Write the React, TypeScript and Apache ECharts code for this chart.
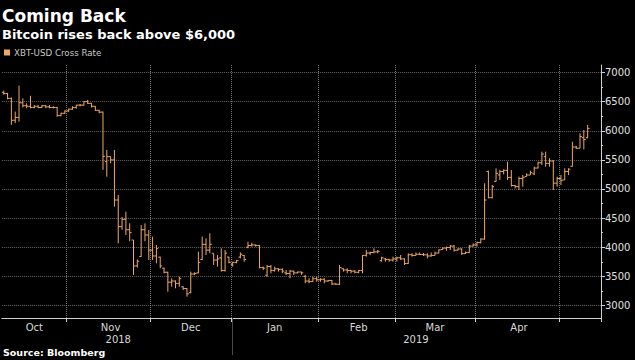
import React, { useEffect, useRef } from "react";
import * as echarts from "echarts";

// ---- categories: weekday trading days per month ----
const monthNames = ["Oct", "Nov", "Dec", "Jan", "Feb", "Mar", "Apr", "May"];
const monthYears = [2018, 2018, 2018, 2019, 2019, 2019, 2019, 2019];
const monthNumbers = [10, 11, 12, 1, 2, 3, 4, 5];
const oct2018Days = [9, 10, 11, 12, 15, 16, 17, 18, 19, 22, 23, 24, 25, 26, 29, 30, 31];
const nov2018Days = [1, 2, 5, 6, 7, 8, 9, 12, 13, 14, 15, 16, 19, 20, 21, 22, 23, 26, 27, 28, 29, 30];
const dec2018Days = [3, 4, 5, 6, 7, 10, 11, 12, 13, 14, 17, 18, 19, 20, 21, 24, 25, 26, 27, 28, 31];
const jan2019Days = [1, 2, 3, 4, 7, 8, 9, 10, 11, 14, 15, 16, 17, 18, 21, 22, 23, 24, 25, 28, 29, 30, 31];
const feb2019Days = [1, 4, 5, 6, 7, 8, 11, 12, 13, 14, 15, 18, 19, 20, 21, 22, 25, 26, 27, 28];
const mar2019Days = [1, 4, 5, 6, 7, 8, 11, 12, 13, 14, 15, 18, 19, 20, 21, 22, 25, 26, 27, 28, 29];
const apr2019Days = [1, 2, 3, 4, 5, 8, 9, 10, 11, 12, 15, 16, 17, 18, 19, 22, 23, 24, 25, 26, 29, 30];
const may2019Days = [1, 2, 3, 6, 7, 8, 9, 10, 13, 14, 15];
const monthDays = [oct2018Days, nov2018Days, dec2018Days, jan2019Days, feb2019Days, mar2019Days, apr2019Days, may2019Days];

// ---- XBT-USD daily bars: [open, high, low, close] ----
const octBars = [
  [6660, 6690, 6620, 6640], [6640, 6650, 6540, 6556], [6556, 6570, 6100, 6180], [6180, 6330, 6130, 6230],
  [6230, 6775, 6156, 6480], [6480, 6556, 6400, 6430], [6430, 6470, 6385, 6420], [6420, 6600, 6385, 6400],
  [6400, 6442, 6385, 6420], [6420, 6440, 6385, 6400], [6400, 6442, 6390, 6430], [6430, 6442, 6390, 6410],
  [6410, 6440, 6385, 6400], [6400, 6420, 6385, 6400], [6400, 6410, 6242, 6260], [6260, 6310, 6250, 6300],
  [6300, 6350, 6290, 6340],
];
const novBars = [
  [6340, 6380, 6320, 6370], [6370, 6420, 6360, 6400], [6400, 6445, 6380, 6440], [6440, 6460, 6420, 6440],
  [6440, 6510, 6430, 6500], [6500, 6530, 6460, 6470], [6470, 6480, 6400, 6420], [6420, 6425, 6340, 6350],
  [6350, 6360, 6300, 6320], [6320, 6330, 5330, 5560], [5470, 5670, 5212, 5555], [5555, 5560, 5440, 5500],
  [5500, 5670, 4697, 4811], [4811, 4897, 4067, 4353], [4353, 4520, 4300, 4480], [4480, 4611, 4210, 4300],
  [4300, 4411, 4102, 4250], [4124, 4124, 3524, 3678], [3680, 3790, 3650, 3760], [3840, 4380, 3838, 4300],
  [4300, 4411, 4102, 4210], [4210, 4296, 3781, 3950],
];
const decBars = [
  [3950, 4182, 3781, 3850], [3850, 4039, 3724, 3980], [3830, 3838, 3638, 3680], [3640, 3650, 3552, 3570],
  [3570, 3581, 3237, 3400], [3400, 3467, 3323, 3420], [3420, 3430, 3295, 3380], [3380, 3495, 3323, 3460],
  [3320, 3330, 3266, 3290], [3290, 3300, 3152, 3200], [3220, 3581, 3209, 3540], [3540, 3570, 3520, 3550],
  [3560, 3924, 3552, 3740], [3790, 4182, 3781, 4050], [4050, 4153, 3867, 3950], [3950, 4239, 3896, 4050],
  [3896, 3896, 3695, 3780], [3780, 3867, 3667, 3800], [3820, 3981, 3581, 3600], [3600, 3953, 3581, 3900],
  [3830, 3838, 3724, 3740],
];
const janBars = [
  [3700, 3752, 3667, 3740], [3740, 3781, 3724, 3770], [3830, 3910, 3810, 3880], [3860, 3867, 3752, 3790],
  [4000, 4096, 3981, 4030], [4030, 4079, 4010, 4040], [4040, 4045, 4010, 4030], [4030, 4039, 3638, 3650],
  [3650, 3667, 3610, 3640], [3520, 3695, 3495, 3670], [3670, 3695, 3552, 3600], [3600, 3667, 3581, 3630],
  [3630, 3638, 3581, 3620], [3620, 3638, 3552, 3590], [3560, 3610, 3524, 3550], [3550, 3610, 3467, 3590],
  [3590, 3598, 3524, 3560], [3560, 3581, 3552, 3575], [3575, 3581, 3524, 3560], [3500, 3524, 3381, 3420],
  [3420, 3467, 3381, 3410], [3410, 3495, 3405, 3460], [3460, 3495, 3410, 3440],
];
const febBars = [
  [3440, 3467, 3409, 3450], [3450, 3467, 3381, 3420], [3420, 3438, 3409, 3430], [3430, 3438, 3352, 3370],
  [3370, 3381, 3352, 3365], [3365, 3695, 3352, 3650], [3630, 3638, 3581, 3610], [3610, 3638, 3552, 3600],
  [3600, 3610, 3552, 3590], [3590, 3610, 3552, 3570], [3570, 3610, 3552, 3600], [3600, 3867, 3552, 3860],
  [3860, 3953, 3838, 3900], [3900, 3924, 3867, 3910], [3910, 3981, 3896, 3920], [3920, 3953, 3896, 3930],
  [3770, 3838, 3752, 3820], [3800, 3815, 3752, 3790], [3790, 3800, 3752, 3780], [3780, 3838, 3752, 3800],
];
const marBars = [
  [3800, 3838, 3752, 3820], [3820, 3867, 3781, 3800], [3800, 3810, 3695, 3720], [3720, 3896, 3715, 3870],
  [3870, 3896, 3838, 3860], [3860, 3910, 3855, 3880], [3880, 3910, 3867, 3875], [3875, 3900, 3850, 3870],
  [3870, 3896, 3810, 3850], [3850, 3910, 3838, 3860], [3860, 3924, 3860, 3900], [3900, 3960, 3895, 3955],
  [3960, 3999, 3953, 3985], [3985, 4010, 3941, 3995], [3995, 4039, 3953, 4020], [4020, 4039, 3924, 3950],
  [3950, 3981, 3941, 3970], [3970, 3981, 3867, 3890], [3890, 3924, 3885, 3910], [3910, 4039, 3905, 4020],
  [4020, 4067, 4010, 4040],
];
const aprBars = [
  [4040, 4096, 4010, 4080], [4080, 4153, 4067, 4140], [4140, 5098, 4130, 4811], [5300, 5315, 4840, 4850],
  [4850, 5069, 4840, 5040], [5130, 5355, 5126, 5269], [5240, 5326, 5155, 5300], [5300, 5340, 5250, 5320],
  [5320, 5469, 5155, 5200], [5200, 5326, 5040, 5060], [5060, 5069, 5011, 5040], [5040, 5212, 4983, 5180],
  [5180, 5240, 5040, 5200], [5212, 5269, 5212, 5240], [5240, 5315, 5240, 5280], [5260, 5383, 5240, 5360],
  [5360, 5469, 5355, 5450], [5450, 5641, 5412, 5600], [5555, 5641, 5383, 5440], [5440, 5527, 5383, 5480],
  [5480, 5498, 4983, 5100], [5100, 5212, 5040, 5180],
];
const mayBars = [
  [5180, 5240, 5069, 5150], [5155, 5355, 5155, 5300], [5300, 5355, 5240, 5340], [5390, 5812, 5383, 5720],
  [5720, 5740, 5690, 5700], [5700, 5956, 5700, 5900], [5880, 6013, 5680, 5850], [5880, 6099, 5870, 6040],
];

const yTickValues = [3000, 3500, 4000, 4500, 5000, 5500, 6000, 6500, 7000];
const yMinorTickValues = [3250, 3750, 4250, 4750, 5250, 5750, 6250, 6750];
const yMin = 2785;
const yMax = 7129;

const BAR_COLOR = "#efa865";
const FONT = "'DejaVu Sans', 'Noto Sans', sans-serif";

function pad(n: number) {
  return n < 10 ? "0" + n : String(n);
}

export default function App() {
  const ref = useRef<HTMLDivElement>(null);

  useEffect(() => {
    if (!ref.current) return;
    const chart = echarts.init(ref.current, undefined, { renderer: "svg" });

    const categories: string[] = [];
    const monthFirst: number[] = [];
    const monthLast: number[] = [];
    monthDays.forEach((days, m) => {
      monthFirst.push(categories.length);
      days.forEach((d) => categories.push(`${monthYears[m]}-${pad(monthNumbers[m])}-${pad(d)}`));
      monthLast.push(categories.length - 1);
    });
    const tickIdx = new Set(monthFirst.filter((i) => i !== 0));
    const labelIdx = new Map<number, string>();
    monthDays.forEach((days, m) => {
      if (days.length >= 15) {
        labelIdx.set(Math.ceil((monthFirst[m] + monthLast[m]) / 2), monthNames[m]);
      }
    });
    const firstOf2019 = monthFirst[monthYears.indexOf(2019)];
    const yearMid = new Map<number, string>();
    yearMid.set(Math.ceil((0 + firstOf2019 - 1) / 2), "2018");
    yearMid.set(Math.ceil((firstOf2019 + categories.length - 1) / 2), "2019");

    const bars = [...octBars, ...novBars, ...decBars, ...janBars, ...febBars, ...marBars, ...aprBars, ...mayBars];
    const data = bars.map((b, i) => [i, b[0], b[1], b[2], b[3]]);

    const renderItem = (_params: any, api: any) => {
      const idx = api.value(0);
      const pO = api.coord([idx, api.value(1)]);
      const pH = api.coord([idx, api.value(2)]);
      const pL = api.coord([idx, api.value(3)]);
      const pC = api.coord([idx, api.value(4)]);
      const band = api.size([1, 0])[0];
      const half = band / 2;
      const x = pO[0];
      const color = api.visual("color");
      return {
        type: "group",
        children: [
          { type: "line", shape: { x1: x, y1: pH[1], x2: x, y2: pL[1] }, style: { stroke: color, lineWidth: 1 } },
          { type: "line", shape: { x1: x - half, y1: pO[1], x2: x, y2: pO[1] }, style: { stroke: color, lineWidth: 1 } },
          { type: "line", shape: { x1: x, y1: pC[1], x2: x + half, y2: pC[1] }, style: { stroke: color, lineWidth: 1 } },
        ],
      };
    };

    chart.setOption({
      animation: false,
      backgroundColor: "#000000",
      textStyle: { fontFamily: FONT },
      title: [
        {
          text: "Coming Back",
          left: 2,
          top: 7,
          padding: 0,
          textStyle: { color: "#ffffff", fontSize: 17, fontWeight: "bold", fontFamily: FONT },
        },
        {
          text: "Bitcoin rises back above $6,000",
          left: 2,
          top: 27.5,
          padding: 0,
          textStyle: { color: "#ffffff", fontSize: 13, fontWeight: "bold", fontFamily: FONT },
        },
        {
          text: "Source: Bloomberg",
          left: 3,
          top: 347,
          padding: 0,
          textStyle: { color: "#ffffff", fontSize: 9.5, fontWeight: "bold", fontFamily: FONT },
        },
      ],
      legend: {
        left: 4,
        top: 48,
        padding: 0,
        icon: "rect",
        itemWidth: 6,
        itemHeight: 6,
        itemGap: 4,
        textStyle: { color: "#c8c8c8", fontSize: 8.7, fontFamily: FONT, padding: [0, 0, 0, -1] },
        data: ["XBT-USD Cross Rate"],
      },
      grid: { left: 1.85, right: 34, top: 65, bottom: 42 },
      xAxis: [
        {
          type: "category",
          position: "bottom",
          data: categories,
          boundaryGap: true,
          axisLine: { show: true, lineStyle: { color: "#d0d0d0", width: 1 } },
          axisTick: {
            show: true,
            interval: (i: number) => tickIdx.has(i),
            length: 4,
            lineStyle: { color: "#d0d0d0" },
          },
          splitLine: {
            show: true,
            interval: (i: number) => tickIdx.has(i),
            lineStyle: { color: "#777777", type: "dotted", width: 1 },
          },
          axisLabel: {
            interval: (i: number) => labelIdx.has(i),
            formatter: (_v: string, i: number) => labelIdx.get(i) || "",
            color: "#d8d8d8",
            fontSize: 10,
            fontFamily: FONT,
            margin: 4,
          },
        },
        {
          type: "category",
          position: "bottom",
          data: categories,
          boundaryGap: true,
          axisLine: { show: false },
          axisTick: {
            show: true,
            alignWithLabel: true,
            interval: (i: number) => i === firstOf2019,
            length: 37,
            lineStyle: { color: "#4a4a4a" },
          },
          splitLine: { show: false },
          axisLabel: {
            interval: (i: number) => yearMid.has(i),
            formatter: (_v: string, i: number) => yearMid.get(i) || "",
            color: "#d8d8d8",
            fontSize: 10,
            fontFamily: FONT,
            margin: 16,
          },
        },
      ],
      yAxis: [
        {
          type: "value",
          position: "right",
          min: yMin,
          max: yMax,
          axisLine: { show: true, lineStyle: { color: "#d0d0d0", width: 1 } },
          axisTick: { show: true, length: 4, customValues: yTickValues, lineStyle: { color: "#d0d0d0" } },
          axisLabel: {
            customValues: yTickValues,
            formatter: (v: number) => String(v),
            color: "#e0e0e0",
            fontSize: 10,
            fontFamily: FONT,
            margin: 4,
          },
          splitLine: { show: true, lineStyle: { color: "#666666", type: "dotted", width: 1 } },
        },
        {
          type: "value",
          position: "right",
          min: yMin,
          max: yMax,
          axisLine: { show: false },
          axisTick: { show: true, length: 2, customValues: yMinorTickValues, lineStyle: { color: "#d0d0d0" } },
          axisLabel: { show: false },
          splitLine: { show: false },
        },
      ],
      series: [
        {
          name: "XBT-USD Cross Rate",
          type: "custom",
          xAxisIndex: 0,
          yAxisIndex: 0,
          itemStyle: { color: BAR_COLOR },
          encode: { x: 0, y: [1, 2, 3, 4] },
          renderItem,
          data,
          clip: true,
        },
      ],
    });

    return () => {
      chart.dispose();
    };
  }, []);

  return (
    <div
      ref={ref}
      style={{ position: "absolute", left: 0, top: 0, width: 635, height: 360, background: "#000" }}
    />
  );
}
